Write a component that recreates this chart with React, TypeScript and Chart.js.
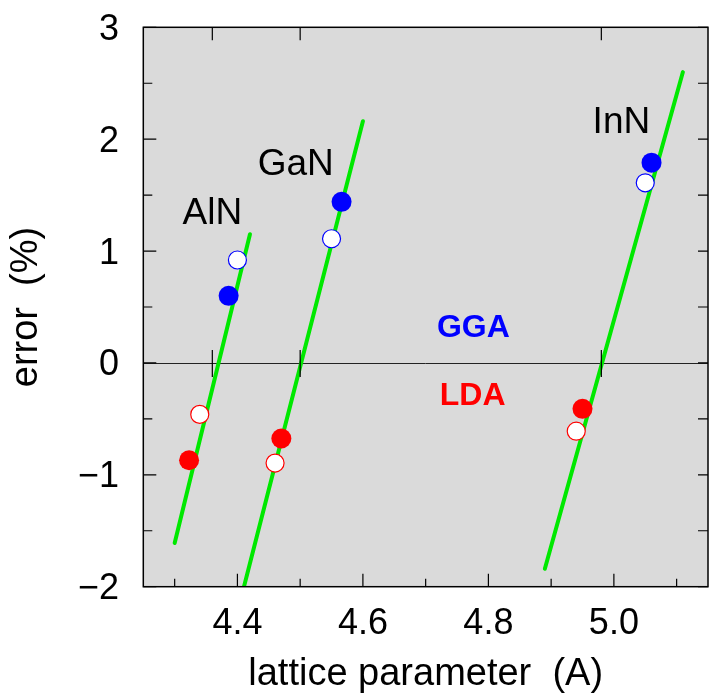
import React, { useEffect, useRef } from 'react';
import { Chart, registerables } from 'chart.js';

Chart.register(...registerables);

// ---- data ----
const xMajorTicks = [4.4, 4.6, 4.8, 5.0];
const xMinorTicks = [4.3, 4.5, 4.7, 4.9, 5.1];
const yMajorTicks = [-2, -1, 0, 1, 2, 3];
const yMinorTicks = [-1.5, -0.5, 0.5, 1.5, 2.5];

const compounds = ['AlN', 'GaN', 'InN'];
const expLattice = [4.36, 4.5, 4.98];

const fitLineX = [[4.3, 4.42], [4.41, 4.6], [4.89, 5.11]];
const fitLineY = [[-1.61, 1.15], [-2.01, 2.16], [-1.84, 2.6]];

const ggaFilledX = [4.386, 4.566, 5.06];
const ggaFilledY = [0.6, 1.44, 1.79];
const ggaOpenX = [4.4, 4.55, 5.05];
const ggaOpenY = [0.92, 1.11, 1.61];
const ldaFilledX = [4.323, 4.47, 4.95];
const ldaFilledY = [-0.87, -0.675, -0.41];
const ldaOpenX = [4.34, 4.46, 4.94];
const ldaOpenY = [-0.46, -0.895, -0.61];

const compoundLabelX = [4.36, 4.493, 5.012];
const compoundLabelY = [1.244, 1.683, 2.059];
const methodLabels = ['GGA', 'LDA'];
const methodLabelX = [4.776, 4.775];
const methodLabelY = [0.229, -0.373];

const xTitle = 'lattice parameter  (A)';
const yTitle = 'error  (%)';

const FONT = '"Liberation Sans", Arial, Helvetica, sans-serif';
const GREEN = '#00e800';
const BLUE = '#0000ff';
const RED = '#ff0000';

const pts = (xs: number[], ys: number[]) => xs.map((x, i) => ({ x, y: ys[i] }));
const fmtY = (v: number) => (v < 0 ? '\u2212' + Math.abs(v) : String(v));

const decorPlugin = {
  id: 'decor',
  beforeDraw(chart: any) {
    const { ctx, chartArea: a } = chart;
    ctx.save();
    ctx.fillStyle = '#dadada';
    ctx.fillRect(a.left, a.top, a.right - a.left, a.bottom - a.top);
    ctx.restore();
  },
  beforeDatasetsDraw(chart: any) {
    const { ctx, chartArea: a, scales } = chart;
    const y0 = scales.y.getPixelForValue(0);
    ctx.save();
    ctx.strokeStyle = '#222';
    ctx.lineWidth = 1;
    ctx.beginPath();
    ctx.moveTo(a.left, Math.round(y0) + 0.5);
    ctx.lineTo(a.right, Math.round(y0) + 0.5);
    ctx.stroke();
    ctx.restore();
  },
  afterDatasetsDraw(chart: any) {
    const { ctx, chartArea: a, scales } = chart;
    const xs = scales.x;
    const ys = scales.y;
    ctx.save();
    ctx.strokeStyle = '#000';
    ctx.lineWidth = 1.2;
    ctx.beginPath();
    xMajorTicks.forEach((v) => {
      const p = xs.getPixelForValue(v);
      ctx.moveTo(p, a.bottom);
      ctx.lineTo(p, a.bottom - 13);
    });
    xMinorTicks.forEach((v) => {
      const p = xs.getPixelForValue(v);
      ctx.moveTo(p, a.bottom);
      ctx.lineTo(p, a.bottom - 8);
    });
    yMajorTicks.forEach((v) => {
      const p = ys.getPixelForValue(v);
      ctx.moveTo(a.left, p);
      ctx.lineTo(a.left + 13, p);
      ctx.moveTo(a.right, p);
      ctx.lineTo(a.right - 10, p);
    });
    yMinorTicks.forEach((v) => {
      const p = ys.getPixelForValue(v);
      ctx.moveTo(a.left, p);
      ctx.lineTo(a.left + 9, p);
      ctx.moveTo(a.right, p);
      ctx.lineTo(a.right - 10, p);
    });
    const y0 = ys.getPixelForValue(0);
    expLattice.forEach((v) => {
      const p = xs.getPixelForValue(v);
      ctx.moveTo(p, y0 - 13);
      ctx.lineTo(p, y0 + 14);
      ctx.moveTo(p, a.top);
      ctx.lineTo(p, a.top + 13);
    });
    ctx.stroke();

    ctx.lineWidth = 1.5;
    ctx.strokeRect(a.left, a.top, a.right - a.left, a.bottom - a.top);

    ctx.fillStyle = '#000';
    ctx.font = `37px ${FONT}`;
    ctx.textAlign = 'center';
    ctx.textBaseline = 'alphabetic';
    compounds.forEach((c, i) => {
      ctx.fillText(c, xs.getPixelForValue(compoundLabelX[i]), ys.getPixelForValue(compoundLabelY[i]));
    });
    ctx.font = `bold 32px ${FONT}`;
    methodLabels.forEach((m, i) => {
      ctx.fillStyle = i === 0 ? BLUE : RED;
      ctx.fillText(m, xs.getPixelForValue(methodLabelX[i]), ys.getPixelForValue(methodLabelY[i]));
    });
    ctx.restore();
  },
  afterDraw(chart: any) {
    const { ctx, chartArea: a, scales } = chart;
    ctx.save();
    ctx.fillStyle = '#000';
    ctx.textBaseline = 'alphabetic';
    ctx.font = `36px ${FONT}`;
    ctx.textAlign = 'center';
    xMajorTicks.forEach((v) => {
      ctx.fillText(v.toFixed(1), scales.x.getPixelForValue(v), 633.5);
    });
    ctx.textAlign = 'right';
    yMajorTicks.forEach((v) => {
      ctx.fillText(fmtY(v), 119, scales.y.getPixelForValue(v) + 12.5);
    });
    ctx.font = `38px ${FONT}`;
    ctx.textAlign = 'center';
    ctx.fillText(xTitle, (a.left + a.right) / 2, 685);
    ctx.translate(37, (a.top + a.bottom) / 2);
    ctx.rotate(-Math.PI / 2);
    ctx.fillText(yTitle, 0, 0);
    ctx.restore();
  },
};

export default function App() {
  const ref = useRef<HTMLCanvasElement | null>(null);
  useEffect(() => {
    if (!ref.current) return;
    const lineDs = (i: number) => ({
      type: 'line' as const,
      data: pts(fitLineX[i], fitLineY[i]),
      borderColor: GREEN,
      borderWidth: 4,
      borderCapStyle: 'round',
      pointRadius: 0,
      showLine: true,
      fill: false,
    });
    const chart = new Chart(ref.current, {
      type: 'scatter',
      data: {
        datasets: [
          { data: pts(ggaFilledX, ggaFilledY), pointRadius: 10, pointBackgroundColor: BLUE, pointBorderColor: BLUE, pointBorderWidth: 0 },
          { data: pts(ggaOpenX, ggaOpenY), pointRadius: 9, pointBackgroundColor: '#fff', pointBorderColor: BLUE, pointBorderWidth: 1.2 },
          { data: pts(ldaFilledX, ldaFilledY), pointRadius: 10, pointBackgroundColor: RED, pointBorderColor: RED, pointBorderWidth: 0 },
          { data: pts(ldaOpenX, ldaOpenY), pointRadius: 9, pointBackgroundColor: '#fff', pointBorderColor: RED, pointBorderWidth: 1.2 },
          lineDs(0),
          lineDs(1),
          lineDs(2),
        ] as any,
      },
      options: {
        animation: false,
        responsive: false,
        devicePixelRatio: 1,
        layout: { padding: { top: 27.3, right: 0, left: 0, bottom: 0 } },
        plugins: { legend: { display: false }, tooltip: { enabled: false } },
        scales: {
          x: {
            type: 'linear',
            min: 4.25,
            max: 5.15,
            position: 'bottom',
            grid: { display: false, drawTicks: false },
            border: { display: false },
            ticks: { display: false },
            afterFit: (s: any) => { s.height = 106.3; s.paddingRight = 0; s.paddingLeft = 0; },
          },
          y: {
            type: 'linear',
            min: -2,
            max: 3,
            position: 'left',
            grid: { display: false, drawTicks: false },
            border: { display: false },
            ticks: { display: false },
            afterFit: (s: any) => { s.width = 143.3; s.paddingTop = 0; s.paddingBottom = 0; },
          },
        },
      } as any,
      plugins: [
        decorPlugin,
        {
          id: 'forceArea',
          afterLayout(chart: any) {
            const want = 708;
            const a = chart.chartArea;
            if (Math.abs(a.right - want) > 0.01) {
              a.right = want;
              a.width = a.right - a.left;
              const xs = chart.scales.x;
              xs.right = want;
              xs.width = xs.right - xs.left;
              xs.configure();
            }
          },
        },
      ],
    });
    return () => chart.destroy();
  }, []);
  return (
    <div style={{ position: 'absolute', left: 0, top: 0, width: 709, height: 693, background: '#fff' }}>
      <canvas ref={ref} width={709} height={693} style={{ display: 'block' }} />
    </div>
  );
}
